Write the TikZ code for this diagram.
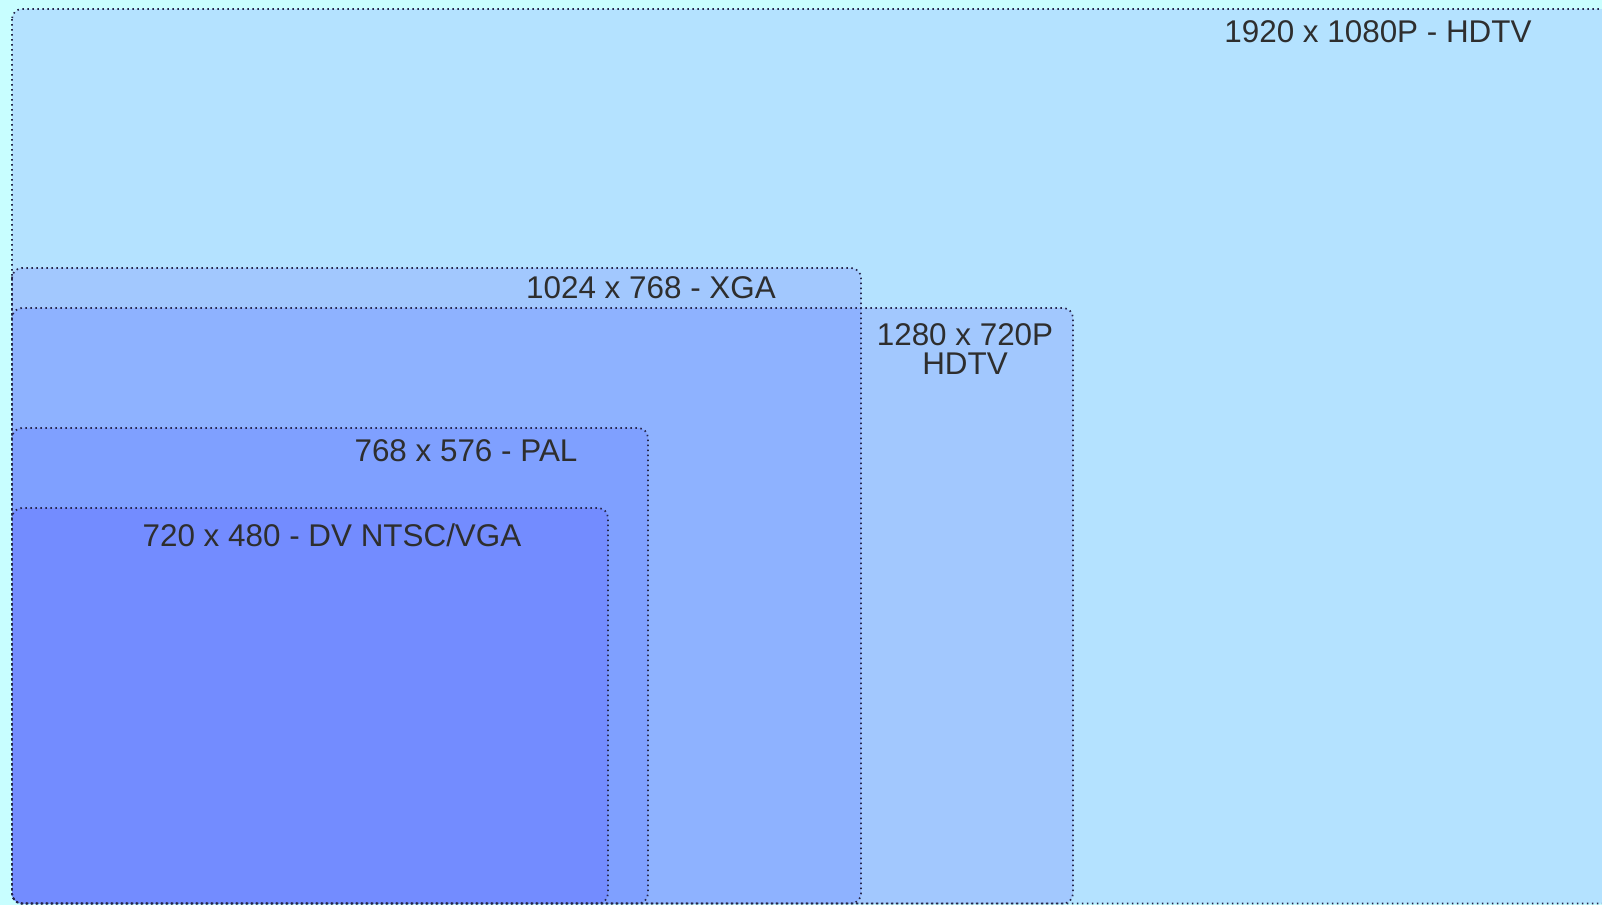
\documentclass[tikz,border=0pt]{standalone}
\usepackage{fontspec}
\setmainfont{Liberation Sans}
\begin{document}
\begin{tikzpicture}[x=0.5pt,y=-0.5pt,
  frame/.style={draw=black!80!blue!70!gray, line width=0.85pt, dash pattern=on 0.75pt off 1.75pt, rounded corners=5pt},
  lbl/.style={font=\fontsize{15.7}{14.8}\selectfont, text=black!82, inner sep=0pt, align=center}]
\definecolor{bgcyan}{HTML}{C8FEFF}
\definecolor{cHD}{HTML}{B4E2FF}
\definecolor{cXGA}{HTML}{A2C8FE}
\definecolor{cBoth}{HTML}{8EB2FF}
\definecolor{cPAL}{HTML}{7FA0FF}
\definecolor{cNTSC}{HTML}{738CFF}
\useasboundingbox (0,0) rectangle (1602,905);
\clip (0,0) rectangle (1602,905);
\fill[bgcyan] (0,0) rectangle (1602,905);
% fills
\fill[cHD, rounded corners=5pt] (12,9) rectangle (1640,903.5);
\fill[cXGA, rounded corners=5pt] (12,268) rectangle (861,903.5);
\fill[cXGA, rounded corners=5pt] (12,308) rectangle (1073,903.5);
\begin{scope}
  \clip[rounded corners=5pt] (12,268) rectangle (861,903.5);
  \fill[cBoth, rounded corners=5pt] (12,308) rectangle (1073,903.5);
\end{scope}
\fill[cPAL, rounded corners=5pt] (12,428) rectangle (648,903.5);
\fill[cNTSC, rounded corners=5pt] (12,508) rectangle (608,903.5);
% frames
\draw[frame] (12,9) rectangle (1640,903.5);
\draw[frame] (12,268) rectangle (861,903.5);
\draw[frame] (12,308) rectangle (1073,903.5);
\draw[frame] (12,428) rectangle (648,903.5);
\draw[frame] (12,508) rectangle (608,903.5);
% labels
\node[lbl] (hd) at (1378,32) {1920 x 1080P - HDTV};
\node[lbl] (xga) at (651,288) {1024 x 768 - XGA};
\node[lbl] (hd720) at (965,349) {1280 x 720P\\HDTV};
\node[lbl] (pal) at (466,451) {768 x 576 - PAL};
\node[lbl] (ntsc) at (332,535) {720 x 480 - DV NTSC/VGA};
\end{tikzpicture}
\end{document}
